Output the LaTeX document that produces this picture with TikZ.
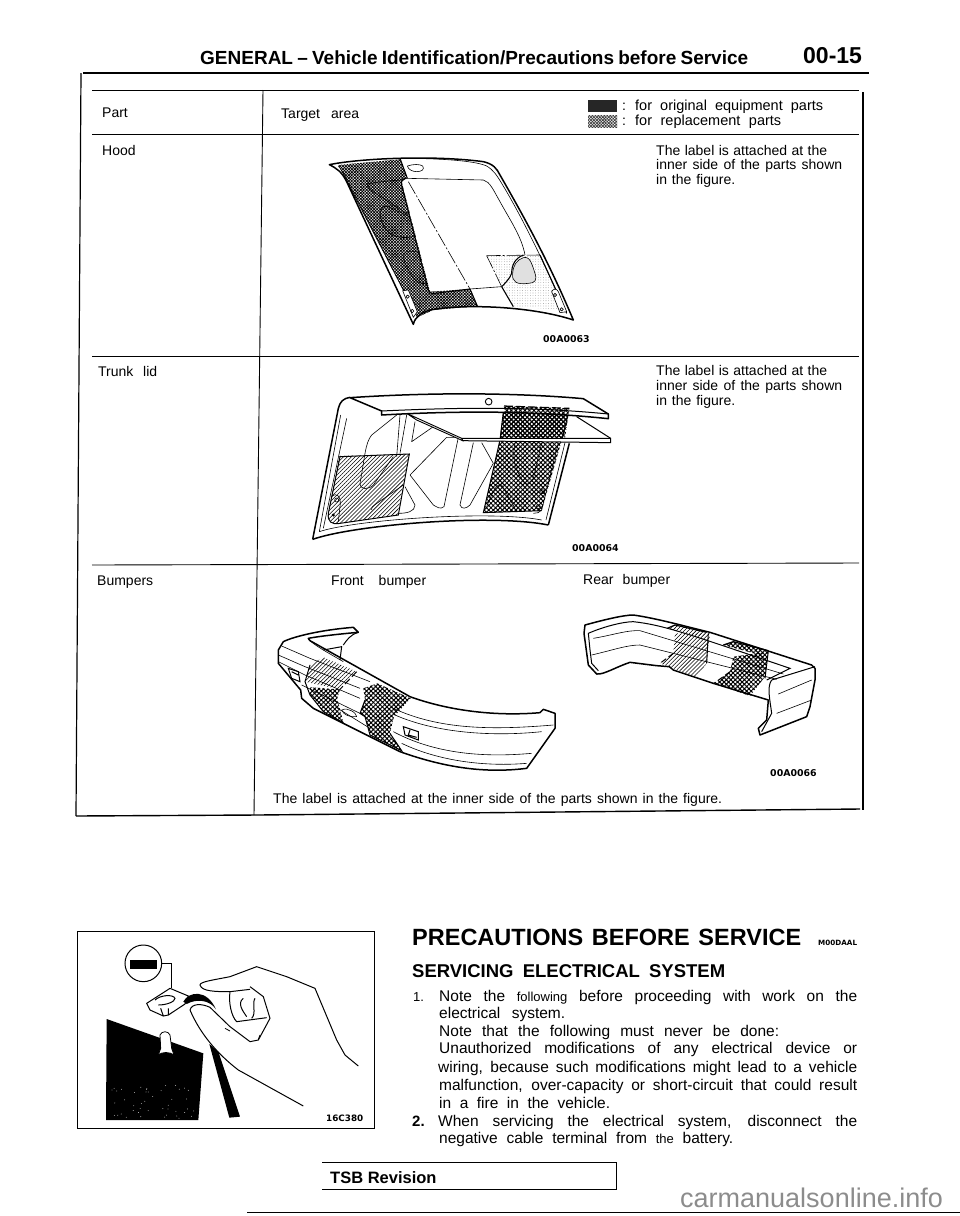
\documentclass[tikz,border=0pt]{standalone}
\usepackage{fontspec}
\setmainfont{Liberation Sans}
\newfontfamily\codefont{DejaVu Sans}
\usetikzlibrary{patterns.meta}
\newcommand{\wline}[2]{\makebox[#1pt][s]{#2}}
\newcommand{\fsz}[1]{\fontsize{#1}{#1}\selectfont}
\tikzset{
  lbl/.style={anchor=base west,inner sep=0pt,font=\fsz{14}},
  head/.style={anchor=base west,inner sep=0pt,font=\fsz{19}\bfseries},
  bodytext/.style={anchor=base west,inner sep=0pt,font=\fsz{15.5}},
  partcode/.style={anchor=base west,inner sep=0pt,font=\codefont\fsz{9.4}\bfseries},
  rulethin/.style={line width=.9pt},
  outline/.style={line width=1.5pt,line join=round},
  innerline/.style={line width=.6pt,line join=round},
  dashdot/.style={line width=.6pt,dash pattern=on 14pt off 2pt on 2pt off 2pt},
  origfill/.style={pattern={Hatch[angle=45,distance=3.2pt,line width=1pt]}},
  denseorig/.style={pattern={Hatch[angle=45,distance=2.1pt,line width=.75pt]}},
  replfill/.style={pattern={Lines[angle=45,distance=2.8pt,line width=.55pt]}},
  lightdots/.style={pattern={Dots[radius=.3pt,distance=2.6pt]},pattern color=black!70},
}
\begin{document}
\begin{tikzpicture}[x=1pt,y=-1pt]
  \useasboundingbox (0,0) rectangle (960,1216);
  % page head
  \node[head] (title) at (200,64) {\wline{548}{GENERAL -- Vehicle Identification/Precautions before Service}};
  \node[head,font=\fsz{23}\bfseries] (pageno) at (803,63) {00-15};
  \draw[line width=2.4pt] (83,73) -- (869,73);
  % table
  \draw[line width=1.2pt] (81,73) -- (76,816);
  \draw[line width=1.4pt] (76,816) -- (258,815) -- (860,809);
  \draw[line width=1.2pt] (863,92) -- (863,810);
  \draw[rulethin] (92,90) -- (859,90);
  \draw[rulethin] (92,134) -- (859,134);
  \draw[rulethin] (92,356) -- (859,356);
  \draw[rulethin] (92,565) -- (859,563);
  \draw[rulethin] (263,90) -- (254,815);
  \node[lbl] (part) at (102,117) {Part};
  \node[lbl] (target) at (281,118) {\wline{78}{Target area}};
  \node[lbl] (hood) at (102,155) {Hood};
  \node[lbl] (trunk) at (98,376) {\wline{59}{Trunk lid}};
  \node[lbl] (bumpers) at (97,585) {Bumpers};
  \node[lbl] (front) at (331,585) {\wline{95}{Front bumper}};
  \node[lbl] (rear) at (583,584) {\wline{87}{Rear bumper}};
  % legend
  \fill[black!85] (588,100) rectangle (617,112);
  \path[denseorig,pattern color=black!75] (588,115) rectangle (617,127);
  \node[lbl] (colona) at (622,110) {:};
  \node[lbl] (colonb) at (622,125) {:};
  \node[lbl,font=\fsz{14.5}] (orig) at (635,110) {\wline{188}{for original equipment parts}};
  \node[lbl,font=\fsz{14.5}] (repl) at (635,125) {\wline{146}{for replacement parts}};
  % notes
  \node[lbl] (hooda) at (656,155) {\wline{171}{The label is attached at the}};
  \node[lbl] (hoodb) at (656,169) {\wline{186}{inner side of the parts shown}};
  \node[lbl] (hoodc) at (656,184) {\wline{79}{in the figure.}};
  \node[lbl] (trunka) at (656,375) {\wline{171}{The label is attached at the}};
  \node[lbl] (trunkb) at (656,390) {\wline{186}{inner side of the parts shown}};
  \node[lbl] (trunkc) at (656,405) {\wline{79}{in the figure.}};
  \node[lbl] (bumpnote) at (273,803) {\wline{449}{The label is attached at the inner side of the parts shown in the figure.}};
  \node[partcode] (codea) at (543,342) {00A0063};
  \node[partcode] (codeb) at (572,551) {00A0064};
  \node[partcode] (codec) at (770,776) {00A0066};
  % hood
  \begin{scope}[shift={(200,90)},scale=1/3]
    \path[denseorig] (415,225) -- (600,208) -- (622,265) -- (605,275) -- (690,605) -- (810,597) -- (832,648) -- (700,660) -- (652,682) -- (432,260) -- cycle;
    \path[lightdots] (860,497) -- (1020,495) -- (1100,660) -- (1060,658) -- (942,650) -- (908,590) -- cycle;
    \draw[outline] (388,224) .. controls (480,205) and (700,195) .. (850,215) .. controls (880,222) and (890,235) .. (900,255) .. controls (960,360) and (1040,500) .. (1120,690) .. controls (1000,650) and (800,640) .. (690,660) .. controls (665,668) and (645,680) .. (640,703) -- (440,275) .. controls (425,245) and (410,235) .. cycle;
    \draw[innerline] (415,228) .. controls (425,240) and (435,255) .. (445,280) -- (652,682);
    \draw[innerline] (600,205) .. controls (700,205) and (820,210) .. (860,228) .. controls (880,240) and (890,255) .. (905,280) .. controls (960,370) and (1040,530) .. (1095,665);
    \draw[line width=1.1pt] (600,205) -- (622,265);
    \draw[line width=1.1pt] (970,495) .. controls (945,505) and (935,525) .. (935,550) .. controls (930,565) and (915,580) .. (905,590);
    \draw[line width=1.1pt] (620,265) .. controls (610,265) and (602,270) .. (605,285) -- (685,600) .. controls (690,610) and (695,612) .. (705,610) -- (810,597);
    \draw[innerline] (620,265) -- (850,270) .. controls (870,275) and (880,300) .. (900,335) .. controls (930,390) and (965,440) .. (975,495);
    \draw[innerline] (810,597) -- (905,590);
    \draw[line width=1.1pt] (810,597) -- (832,648);
    \draw[line width=1.1pt] (905,590) -- (940,650);
    \draw[dashdot] (625,275) -- (810,597);
    \draw[dashdot] (860,497) -- (1020,495);
    \draw[dashdot] (860,497) -- (905,590);
    \draw[line width=1.1pt] (1020,495) -- (1100,670);
    \draw[innerline] (500,282) .. controls (540,275) and (570,272) .. (605,270);
    \draw[innerline] (500,282) .. controls (510,300) and (520,308) .. (540,318) -- (622,372);
    \draw[innerline] (560,348) .. controls (535,350) and (540,375) .. (545,395) .. controls (560,430) and (585,450) .. (640,440);
    \draw[innerline] (560,348) -- (625,378);
    \draw[innerline] (652,485) -- (620,485) .. controls (605,490) and (610,510) .. (620,530) .. controls (635,560) and (650,585) .. (678,580);
    \draw[innerline] (622,228) .. controls (640,222) and (660,222) .. (668,228) .. controls (675,238) and (665,245) .. (650,245) .. controls (640,245) and (625,240) .. cycle;
    \draw[innerline,fill=white] (608,602) -- (625,600) -- (652,665) -- (640,682) -- cycle;
    \draw[innerline] (623,620) circle (5) (637,663) circle (5);
    \draw[innerline,fill=white] (1055,605) .. controls (1060,595) and (1070,595) .. (1075,605) -- (1100,665) -- (1080,668) -- cycle;
    \draw[innerline] (1065,615) circle (5) (1085,658) circle (5);
    \draw[innerline,fill=black!12] (970,503) .. controls (990,498) and (995,520) .. (1005,550) .. controls (1012,570) and (1005,580) .. (985,580) .. controls (950,585) and (935,575) .. (938,550) .. controls (940,525) and (950,510) .. cycle;
  \end{scope}
  % trunk lid
  \begin{scope}[shift={(240,350)},scale=1/3]
    \path[replfill] (298,318) -- (508,312) -- (472,495) -- (300,520) .. controls (275,525) and (262,515) .. (265,490) -- cycle;
    \path[origfill] (792,168) -- (988,175) -- (965,272) -- (905,482) -- (730,488) -- (780,270) -- cycle;
    \draw[outline] (218,568) -- (295,175) .. controls (300,155) and (310,145) .. (330,142);
    \draw[outline] (218,568) .. controls (340,525) and (750,490) .. (925,525);
    \draw[outline] (925,525) -- (988,280);
    \draw[innerline] (238,545) -- (302,195) (238,545) .. controls (340,510) and (750,480) .. (905,510);
    \draw[innerline] (250,535) -- (320,205);
    \draw[innerline] (955,278) -- (905,480) .. controls (900,488) and (890,490) .. (880,490);
    \draw[innerline] (975,278) -- (918,510);
    \draw[line width=1pt] (265,490) -- (300,320) -- (508,312) -- (475,495) -- (300,520) .. controls (275,525) and (262,515) .. (265,490);
    \draw[line width=1pt] (780,270) -- (730,488) -- (905,482);
    \draw[line width=1pt,dash pattern=on 6pt off 2pt] (792,168) -- (988,175);
    \draw[line width=1pt] (792,170) -- (780,270) (988,178) -- (965,272);
    \draw[innerline] (470,195) -- (395,255) .. controls (375,280) and (375,320) .. (360,400) .. controls (360,420) and (385,420) .. (400,405) -- (460,320);
    \draw[innerline] (480,195) -- (470,320) (500,195) -- (480,310);
    \draw[innerline] (525,215) -- (515,275) -- (580,230);
    \draw[innerline] (510,375) -- (620,262) -- (655,262) -- (612,470) .. controls (600,480) and (590,470) .. (580,465) -- cycle;
    \draw[innerline] (700,278) -- (660,465) .. controls (665,480) and (680,475) .. (690,465) -- (760,340) -- (725,278);
    \draw[innerline] (495,410) -- (525,465) .. controls (525,485) and (500,490) .. (475,490);
    \draw[innerline] (395,480) .. controls (390,470) and (405,465) .. (490,405);
    \draw[innerline] (825,280) .. controls (815,320) and (825,360) .. (850,395) .. controls (860,405) and (870,400) .. (880,385) -- (905,278);
    \draw[innerline] (740,470) .. controls (760,420) and (770,400) .. (785,405) -- (825,475);
    \draw[innerline] (275,440) .. controls (290,425) and (305,440) .. (300,470) -- (295,515);
    \draw[innerline] (290,450) circle (6); \fill (280,495) circle (5);
    \draw[innerline] (895,470) circle (6) (908,425) circle (6);
    % panels
    \draw[line width=1pt,fill=white] (665,265) -- (1112,265) -- (1112,278) -- (668,272) -- cycle;
    \draw[line width=.9pt,fill=white] (500,190) -- (665,265) -- (668,272) -- (530,210) -- cycle;
    \path[origfill] (792,168) -- (988,175) -- (975,265) -- (780,262) -- cycle;
    \draw[line width=1pt] (1010,200) -- (1112,265);
    \draw[outline,fill=white] (330,143) .. controls (600,125) and (850,130) .. (1030,146) -- (1105,192) -- (1105,206) .. controls (900,185) and (700,180) .. (425,195) -- (425,183) -- cycle;
    \draw[line width=1pt] (425,183) .. controls (700,170) and (900,172) .. (1105,192);
    \path[origfill] (792,168) -- (988,175) -- (985,195) -- (792,188) -- cycle;
    \draw[line width=1.2pt,dash pattern=on 9pt off 3pt] (792,168) -- (988,175);
    \draw[line width=.9pt] (746,155) circle (10);
  \end{scope}
  % front bumper
  \begin{scope}[shift={(260,600)},scale=1/3]
    \path[replfill] (150,195) -- (190,172) -- (290,215) -- (240,268) -- (135,245) -- cycle;
    \path[origfill] (150,262) -- (240,268) -- (232,295) -- (250,368) -- (190,335) -- (150,285) -- cycle;
    \path[origfill] (310,265) -- (352,250) -- (452,295) -- (402,350) -- (390,400) -- (425,452) -- (330,405) -- (315,350) -- (300,340) -- (315,300) -- cycle;
    \draw[outline] (295,97) -- (280,82) .. controls (180,90) and (100,110) .. (70,125) -- (55,150) -- (55,190) -- (122,270) -- (125,295) -- (160,325) -- (420,455) .. controls (560,505) and (680,520) .. (800,505) -- (885,385) -- (885,340) -- (850,328) -- (840,338) .. controls (700,350) and (560,330) .. (450,290) -- (150,122) -- (145,115) .. controls (180,108) and (260,100) .. cycle;
    \draw[innerline] (145,118) .. controls (170,140) and (190,150) .. (250,185);
    \draw[line width=1pt] (250,135) .. controls (262,118) and (270,105) .. (295,97);
    \draw[line width=1pt] (190,150) -- (245,140) -- (240,180);
    \draw[innerline] (65,138) -- (150,175) -- (330,245);
    \draw[innerline] (55,165) -- (135,200) -- (300,265);
    \draw[innerline] (55,185) -- (135,225) -- (300,295);
    \draw[innerline] (125,255) -- (310,345);
    \draw[innerline] (225,320) -- (330,385);
    \draw[innerline] (400,325) .. controls (540,390) and (700,390) .. (880,375);
    \draw[innerline] (405,345) .. controls (530,400) and (700,410) .. (845,395);
    \draw[innerline] (400,395) .. controls (540,470) and (700,470) .. (815,460);
    \draw[innerline] (425,430) .. controls (540,485) and (680,500) .. (800,490);
    \draw[line width=1pt] (85,205) -- (115,215) -- (120,245) -- (95,235) -- cycle (95,215) -- (115,225);
    \draw[line width=1pt] (430,380) -- (475,395) -- (475,420) -- (435,405) -- cycle (450,390) -- (445,405) -- (470,412);
    \draw[innerline] (245,330) .. controls (265,320) and (290,340) .. (290,350) .. controls (270,352) and (250,345) .. cycle;
    \draw[line width=1pt,dash pattern=on 7pt off 3pt] (290,215) -- (240,268);
    \draw[line width=1pt] (150,195) -- (135,245) -- (150,285) -- (190,335) -- (250,368);
    \draw[line width=1pt] (315,300) -- (300,340) -- (315,350) -- (330,405) -- (425,452) -- (390,400);
  \end{scope}
  % rear bumper
  \begin{scope}[shift={(570,600)},scale=1/3]
    \path[replfill] (315,100) -- (420,100) -- (410,190) -- (380,232) -- (270,190) -- (310,160) -- cycle;
    \path[replfill] (292,85) -- (315,75) -- (410,97) -- (395,110) -- cycle;
    \path[origfill] (490,170) -- (595,155) -- (585,230) -- (540,288) -- (432,250) -- (480,215) -- cycle;
    \path[origfill] (460,135) -- (490,125) -- (595,152) -- (570,165) -- cycle;
    \draw[outline] (45,75) .. controls (100,60) and (160,45) .. (190,45) .. controls (260,55) and (350,80) .. (420,97) -- (725,195) -- (735,205) -- (735,240) -- (720,320) -- (710,350) -- (570,405) -- (565,385) -- (590,360) -- (595,300) -- (430,250) -- (310,210) -- (298,200) -- (260,197) -- (180,187) .. controls (140,200) and (100,225) .. (80,222) -- (55,195) -- (42,100) -- cycle;
    \draw[line width=1pt] (60,150) -- (55,100) .. controls (100,80) and (160,65) .. (190,65) .. controls (280,75) and (350,100) .. (660,205) -- (590,240);
    \draw[innerline] (70,115) .. controls (130,105) and (170,90) .. (210,92) -- (640,222);
    \draw[innerline] (65,165) .. controls (130,150) and (170,135) .. (210,135) -- (620,238);
    \draw[line width=1pt] (60,150) -- (65,190) -- (85,212);
    \draw[line width=1pt] (605,240) -- (735,200);
    \draw[line width=1pt] (605,240) .. controls (590,260) and (600,300) .. (605,340) -- (575,395);
    \draw[innerline] (625,282) -- (725,240) (620,340) -- (725,300);
    \draw[line width=1pt] (415,100) -- (410,190) (595,152) -- (585,235);
    \draw[line width=1pt,dash pattern=on 6pt off 3pt] (310,160) -- (270,190) (480,215) -- (432,250);
    \draw[line width=1.2pt] (292,85) -- (315,75) -- (410,97) (460,135) -- (490,125) -- (595,152);
  \end{scope}
  % battery picture
  \draw[line width=1pt] (77,931) rectangle (374,1128);
  \begin{scope}[shift={(70,920)},scale=1/3]
    \fill (110,297) -- (400,400) -- (385,600) -- (108,600) -- cycle;
    \pgfmathsetseed{7}
    \foreach \i in {1,...,45}{
      \pgfmathsetmacro{\dotx}{125+250*rnd}
      \pgfmathsetmacro{\doty}{490+105*rnd}
      \fill[white] (\dotx,\doty) circle (1.2);
    }
    \draw[line width=.8pt,fill=white] (265,405) .. controls (275,395) and (300,395) .. (312,405) -- (305,385) -- (300,345) .. controls (295,332) and (275,332) .. (270,345) -- (272,385) -- cycle;
    \fill (418,372) -- (445,395) -- (510,590) -- (478,593) -- cycle;
    \draw[line width=1pt] (220,130) circle (55);
    \fill (180,120) rectangle (262,148);
    \draw[line width=1pt] (275,130) -- (305,130) -- (305,205);
    \draw[line width=1pt,fill=white] (230,250) -- (300,205) -- (355,228) -- (345,252) -- (295,285) -- (280,288) -- (240,270) -- cycle;
    \draw[line width=1pt] (255,240) .. controls (270,225) and (310,222) .. (315,235) .. controls (315,245) and (290,255) .. (265,255);
    \draw[line width=1pt] (272,265) -- (280,288) (295,265) -- (295,285);
    \fill (340,245) .. controls (355,215) and (410,205) .. (438,268) .. controls (420,240) and (380,235) .. (350,252) -- cycle;
    \draw[line width=1pt] (540,208) -- (480,215) .. controls (440,215) and (395,215) .. (390,195) .. controls (390,185) and (430,180) .. (480,170) -- (560,140) -- (650,170) -- (735,205) -- (800,360) -- (825,405) -- (865,438);
    \draw[line width=1pt] (360,270) .. controls (365,250) and (395,250) .. (420,262) -- (480,320) -- (540,365) -- (565,360) -- (600,295) -- (580,230) -- (540,200);
    \draw[line width=1pt] (360,270) .. controls (390,340) and (440,400) .. (505,450) -- (700,558);
    \draw[line width=1pt] (480,215) .. controls (475,250) and (485,290) .. (500,305) -- (590,293);
    \draw[line width=1pt] (520,235) .. controls (500,250) and (520,275) .. (530,290) (555,235) .. controls (545,250) and (560,280) .. (545,295);
    \draw[line width=.8pt] (465,325) -- (480,333) (570,345) -- (565,358);
  \end{scope}
  \node[partcode,font=\codefont\fsz{8.8}\bfseries] (codeh) at (326,1121) {16C380};
  % right column
  \node[head,font=\fsz{23.5}\bfseries] (precaut) at (412,945) {\wline{389}{PRECAUTIONS BEFORE SERVICE}};
  \node[partcode,font=\codefont\fsz{7.2}\bfseries] (mcode) at (818,945) {M00DAAL};
  \node[head,font=\fsz{18.5}\bfseries] (serv) at (412,977) {\wline{313}{SERVICING ELECTRICAL SYSTEM}};
  \node[lbl,font=\fsz{13}] (numa) at (413,1001) {1.};
  \node[bodytext] (bodya) at (439,1001) {\wline{418}{Note the {\fsz{13}following} before proceeding with work on the}};
  \node[bodytext] (bodyb) at (439,1018) {\wline{126}{electrical system.}};
  \node[bodytext] (bodyc) at (439,1036) {\wline{340}{Note that the following must never be done:}};
  \node[bodytext] (bodyd) at (439,1053) {\wline{418}{Unauthorized modifications of any electrical device or}};
  \node[bodytext] (bodye) at (438,1072) {\wline{419}{wiring, because such modifications might lead to a vehicle}};
  \node[bodytext] (bodyf) at (439,1090) {\wline{418}{malfunction, over-capacity or short-circuit that could result}};
  \node[bodytext] (bodyg) at (439,1108) {\wline{171}{in a fire in the vehicle.}};
  \node[bodytext,font=\fsz{15}\bfseries] (numb) at (412,1126) {2.};
  \node[bodytext] (bodyh) at (438,1126) {\wline{419}{When servicing the electrical system, disconnect the}};
  \node[bodytext] (bodyi) at (439,1143) {\wline{294}{negative cable terminal from {\fsz{13}the} battery.}};
  % foot
  \draw[line width=1pt] (322,1162) -- (616,1162) -- (616,1189) -- (322,1189);
  \node[head,font=\fsz{16.5}\bfseries] (tsb) at (330,1183) {TSB Revision};
  \node[lbl,font=\fsz{27},text=black!45] (mark) at (680,1207) {carmanualsonline.info};
  \draw[line width=1pt] (247,1212) -- (960,1212);
\end{tikzpicture}
\end{document}
